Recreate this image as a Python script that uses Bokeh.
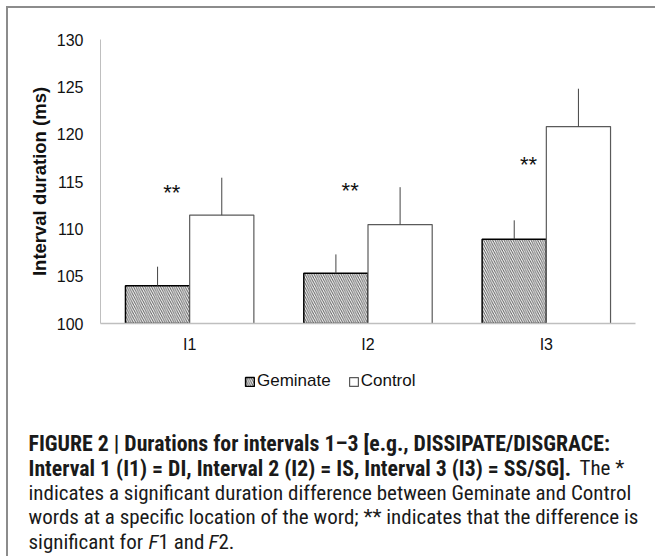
from bokeh.plotting import figure
from bokeh.layouts import column
from bokeh.models import (ColumnDataSource, FactorRange, Range1d, FixedTicker,
                          Legend, LegendItem)
from bokeh.transform import dodge
from bokeh.core.properties import value
from bokeh.embed import file_html
from bokeh.resources import INLINE

# ---- data ----
intervals = ["I1", "I2", "I3"]
geminate = [104.0, 105.3, 108.9]
geminate_err = [2.0, 2.0, 2.0]
control = [111.45, 110.45, 120.8]
control_err = [3.95, 3.95, 4.0]
sig_marks = ["**", "**", "**"]
sig_y = [113.85, 114.05, 116.75]
y_ticks = [100, 105, 110, 115, 120, 125, 130]
series_names = ["Geminate", "Control"]

src = ColumnDataSource(dict(
    cat=intervals,
    gem=geminate,
    gem_top=[g + e for g, e in zip(geminate, geminate_err)],
    ctl=control,
    ctl_top=[c + e for c, e in zip(control, control_err)],
    sig=sig_marks,
    sig_y=sig_y,
))

FONT = "Liberation Sans"
CAP_FONT = "Roboto Condensed"
W = 647

GEM_STYLE = dict(fill_color="white", line_color="black", line_width=1.5,
                 hatch_pattern="\\", hatch_color="#5e5e5e", hatch_scale=4.5, hatch_weight=1)
CTL_STYLE = dict(fill_color="white", line_color="#5a5a5a", line_width=1.2)

p = figure(x_range=FactorRange(*intervals, range_padding=0),
           y_range=Range1d(100, 130),
           width=W, height=355,
           output_backend="svg", toolbar_location=None,
           min_border_left=92, min_border_right=W - 627,
           min_border_top=31, min_border_bottom=40)
p.frame_align = False

off = 0.18
bw = 0.36
p.vbar(x=dodge("cat", -off, range=p.x_range), top="gem", bottom=100, width=bw,
       source=src, **GEM_STYLE)
p.vbar(x=dodge("cat", off, range=p.x_range), top="ctl", bottom=100, width=bw,
       source=src, **CTL_STYLE)

p.segment(x0=dodge("cat", -off, range=p.x_range), y0="gem",
          x1=dodge("cat", -off, range=p.x_range), y1="gem_top",
          source=src, line_color="#444444", line_width=1)
p.segment(x0=dodge("cat", off, range=p.x_range), y0="ctl",
          x1=dodge("cat", off, range=p.x_range), y1="ctl_top",
          source=src, line_color="#444444", line_width=1)

p.text(x=dodge("cat", -0.1, range=p.x_range), y="sig_y", text="sig", source=src,
       text_font=value(FONT), text_font_size="22px", text_align="center",
       text_baseline="middle", text_color="#111111")

p.xgrid.visible = False
p.ygrid.visible = False
p.outline_line_color = None

p.yaxis.ticker = FixedTicker(ticks=y_ticks)
p.yaxis.axis_label = "Interval duration (ms)"
p.yaxis.axis_label_text_font = FONT
p.yaxis.axis_label_text_font_style = "bold"
p.yaxis.axis_label_text_font_size = "18.5px"
p.yaxis.axis_label_text_color = "#111111"
p.yaxis.axis_label_standoff = 4
p.yaxis.major_label_standoff = 17
p.yaxis.axis_line_color = "#bfbfbf"

p.xaxis.major_label_standoff = 12
p.xaxis.axis_line_color = "#bfbfbf"
p.xaxis.axis_line_width = 1.5

for ax in (p.xaxis, p.yaxis):
    ax.major_tick_in = 0
    ax.major_tick_out = 0
    ax.major_tick_line_color = None
    ax.minor_tick_line_color = None
    ax.major_label_text_font = FONT
    ax.major_label_text_font_size = "16px"
    ax.major_label_text_color = "#111111"

# ---- lower part: legend + caption (page-like coordinates) ----
CH = 193
c = figure(x_range=Range1d(0, W), y_range=Range1d(CH, 0), width=W, height=CH,
           output_backend="svg", toolbar_location=None,
           min_border=0, min_border_left=0, min_border_right=0,
           min_border_top=0, min_border_bottom=0)
c.frame_align = False
c.axis.visible = False
c.grid.visible = False
c.outline_line_color = None

# legend proxies: same data, categorical x is not drawable on this numeric canvas
gem_proxy = c.vbar(x="cat", top="gem", bottom=100, width=bw, source=src, **GEM_STYLE)
ctl_proxy = c.vbar(x="cat", top="ctl", bottom=100, width=bw, source=src, **CTL_STYLE)
legend = Legend(items=[LegendItem(label=series_names[0], renderers=[gem_proxy]),
                       LegendItem(label=series_names[1], renderers=[ctl_proxy])],
                orientation="horizontal", location=(236, 165),
                glyph_width=11, glyph_height=11, label_standoff=2, spacing=17,
                padding=0, margin=0, border_line_color=None, background_fill_alpha=0,
                label_text_font=FONT, label_text_font_size="17px",
                label_text_color="#111111")
c.add_layout(legend, "center")

def cap(x, y, text, style="normal"):
    size = "21.8px" if style == "bold" else "21px"
    c.text(x=[x], y=[y], text=[text], text_font=value(CAP_FONT), text_font_size=size,
           text_font_style=style, text_baseline="alphabetic", text_align="left",
           text_color="#1a1a1a")

cap(20, 80, "FIGURE 2 | Durations for intervals 1\u20133 [e.g., DISSIPATE/DISGRACE:", "bold")
cap(20, 104.5, "Interval 1 (I1) = DI, Interval 2 (I2) = IS, Interval 3 (I3) = SS/SG].", "bold")
cap(571, 104.5, "The *")
cap(20, 129, "indicates a significant duration difference between Geminate and Control")
cap(20, 153.5, "words at a specific location of the word; ** indicates that the difference is")
cap(20, 178, "significant for")
cap(140, 178, "F", "italic")
cap(150, 178, "1 and")
cap(200, 178, "F", "italic")
cap(210, 178, "2.")

layout = column(p, c, spacing=0)
layout.styles = {"margin-left": "6px", "margin-top": "6px",
                 "border-left": "2px solid #8c8c8c", "border-top": "2px solid #8c8c8c"}

open("out.html", "w").write(file_html(layout, INLINE))
